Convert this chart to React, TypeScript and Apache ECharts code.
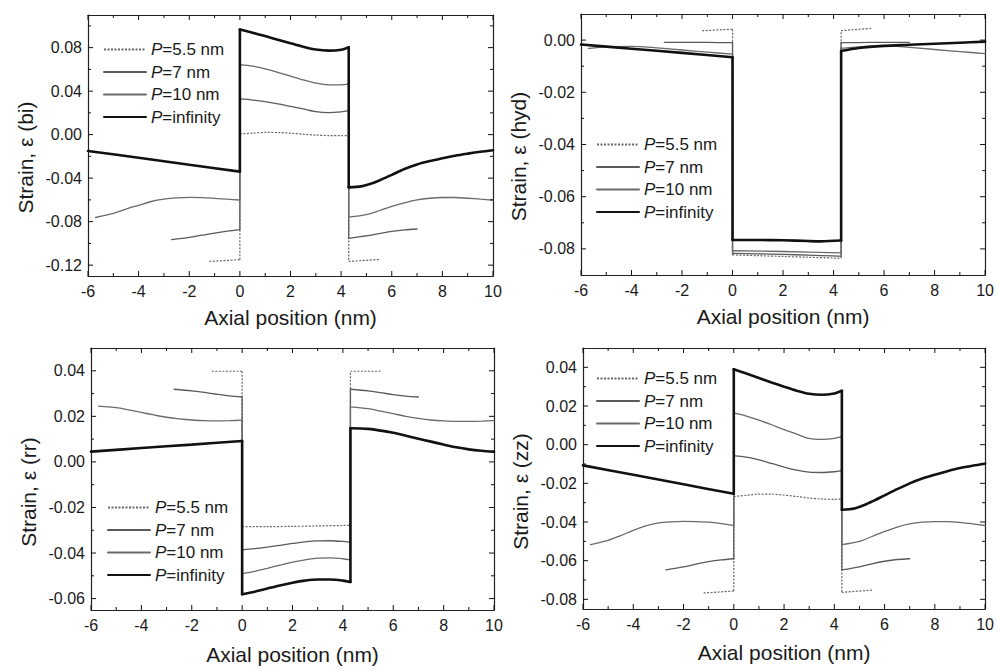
import React, { useEffect, useRef } from "react";
import * as echarts from "echarts";

// ---------- data ----------
const seriesNames = ["P=5.5 nm", "P=7 nm", "P=10 nm", "P=infinity"];
const xTickMin = -6;
const xTickMax = 10;
const xTickStep = 2;
const xMajorTicks = [-6, -4, -2, 0, 2, 4, 6, 8, 10];
const xMinorTicks = [-5, -3, -1, 1, 3, 5, 7, 9];
const yMajorTicks = [
  [-0.12, -0.08, -0.04, 0, 0.04, 0.08],
  [-0.08, -0.06, -0.04, -0.02, 0],
  [-0.06, -0.04, -0.02, 0, 0.02, 0.04],
  [-0.08, -0.06, -0.04, -0.02, 0, 0.02, 0.04],
];
const yMinorTicks = [
  [-0.1, -0.06, -0.02, 0.02, 0.06, 0.1],
  [-0.07, -0.05, -0.03, -0.01],
  [-0.05, -0.03, -0.01, 0.01, 0.03],
  [-0.07, -0.05, -0.03, -0.01, 0.01, 0.03],
];

// Panel (a): Strain, ε (bi)
const bi55 = [[-1.2,-0.1166],[0,-0.1150],[0,0.0006],[0.5,0.0013],[1,0.0020],[1.5,0.0019],[2,0.0013],[2.5,0.0004],[3,-0.0004],[3.5,-0.0009],[4,-0.0010],[4.3,-0.0008],[4.3,-0.1166],[5.5,-0.1148]];
const bi7 = [[-2.7,-0.0966],[-2,-0.0945],[-1.5,-0.0925],[-1,-0.0905],[-0.5,-0.0888],[0,-0.0874],[0,0.0328],[0.5,0.0318],[1,0.0303],[1.5,0.0283],[2,0.0260],[2.5,0.0236],[3,0.0212],[3.5,0.0203],[4,0.0210],[4.3,0.0221],[4.3,-0.0955],[5,-0.0930],[5.5,-0.0910],[6,-0.0890],[6.5,-0.0876],[7,-0.0868]];
const bi10 = [[-5.7,-0.0762],[-5,-0.0725],[-4.5,-0.0685],[-4,-0.0650],[-3.5,-0.0615],[-3,-0.0594],[-2.5,-0.0582],[-2,-0.0577],[-1.5,-0.0579],[-1,-0.0586],[-0.5,-0.0594],[0,-0.0601],[0,0.0644],[0.5,0.0630],[1,0.0605],[1.5,0.0573],[2,0.0538],[2.5,0.0503],[3,0.0474],[3.5,0.0458],[4,0.0458],[4.3,0.0466],[4.3,-0.0758],[5,-0.0735],[5.5,-0.0700],[6,-0.0660],[6.5,-0.0627],[7,-0.0600],[7.5,-0.0585],[8,-0.0578],[8.5,-0.0578],[9,-0.0585],[9.5,-0.0594],[10,-0.0603]];
const biInf = [[-6,-0.0150],[-4,-0.0212],[-2,-0.0277],[0,-0.0340],[0,0.0966],[0.5,0.0937],[1,0.0906],[1.5,0.0873],[2,0.0840],[2.5,0.0808],[3,0.0782],[3.5,0.0772],[4,0.0780],[4.3,0.0803],[4.3,-0.0485],[4.8,-0.0476],[5.2,-0.0450],[5.6,-0.0412],[6,-0.0370],[6.5,-0.0316],[7,-0.0274],[7.5,-0.0243],[8,-0.0218],[8.5,-0.0194],[9,-0.0175],[9.5,-0.0158],[10,-0.0144]];

// Panel (b): Strain, ε (hyd)
const hyd55 = [[-1.2,0.0036],[0,0.0042],[0,-0.0823],[1,-0.0826],[2,-0.0829],[3,-0.0832],[4,-0.0835],[4.3,-0.0836],[4.3,0.0036],[5.5,0.0045]];
const hyd7 = [[-2.7,-0.0009],[-1,-0.0009],[0,-0.0010],[0,-0.0817],[1,-0.0819],[2,-0.0821],[3,-0.0824],[4,-0.0827],[4.3,-0.0828],[4.3,-0.0010],[5.5,-0.0009],[7,-0.0009]];
const hyd10 = [[-5.7,-0.0032],[-5,-0.0026],[-4,-0.0024],[-3,-0.0030],[-2,-0.0038],[-1,-0.0046],[0,-0.0054],[0,-0.0807],[2,-0.0810],[4.3,-0.0815],[4.3,-0.0032],[5,-0.0026],[6,-0.0022],[7,-0.0028],[8,-0.0036],[9,-0.0044],[10,-0.0052]];
const hydInf = [[-6,-0.0017],[-4,-0.0033],[-2,-0.0049],[0,-0.0066],[0,-0.0766],[1,-0.0766],[2,-0.0767],[3,-0.0770],[3.5,-0.0771],[4.3,-0.0768],[4.3,-0.0042],[5,-0.0030],[6,-0.0022],[7,-0.0018],[8,-0.0014],[9,-0.0010],[10,-0.0006]];

// Panel (c): Strain, ε (rr)
const rr55 = [[-1.2,0.0398],[0,0.0398],[0,-0.0284],[1,-0.0284],[2,-0.0283],[3,-0.0281],[4,-0.0279],[4.3,-0.0278],[4.3,0.0398],[5.5,0.0398]];
const rr7 = [[-2.7,0.0319],[-2,0.0312],[-1.5,0.0305],[-1,0.0297],[-0.5,0.0290],[0,0.0286],[0,-0.0386],[0.5,-0.0381],[1,-0.0374],[1.5,-0.0366],[2,-0.0358],[2.5,-0.0351],[3,-0.0347],[3.5,-0.0346],[4,-0.0349],[4.3,-0.0353],[4.3,0.0319],[5,0.0312],[5.5,0.0304],[6,0.0295],[6.5,0.0289],[7,0.0285]];
const rr10 = [[-5.7,0.0245],[-5,0.0238],[-4.5,0.0228],[-4,0.0217],[-3.5,0.0206],[-3,0.0196],[-2.5,0.0189],[-2,0.0184],[-1.5,0.0181],[-1,0.0180],[-0.5,0.0181],[0,0.0183],[0,-0.0490],[0.5,-0.0480],[1,-0.0467],[1.5,-0.0453],[2,-0.0440],[2.5,-0.0430],[3,-0.0422],[3.5,-0.0421],[4,-0.0425],[4.3,-0.0430],[4.3,0.0242],[5,0.0234],[5.5,0.0223],[6,0.0212],[6.5,0.0200],[7,0.0191],[7.5,0.0184],[8,0.0180],[8.5,0.0178],[9,0.0178],[9.5,0.0179],[10,0.0181]];
const rrInf = [[-6,0.0045],[-4,0.0061],[-2,0.0076],[0,0.0092],[0,-0.0581],[0.5,-0.0570],[1,-0.0556],[1.5,-0.0542],[2,-0.0530],[2.5,-0.0521],[3,-0.0516],[3.5,-0.0516],[4,-0.0521],[4.3,-0.0527],[4.3,0.0148],[5,0.0145],[6,0.0128],[6.5,0.0115],[7,0.0102],[7.5,0.0089],[8,0.0076],[8.5,0.0064],[9,0.0055],[9.5,0.0049],[10,0.0045]];

// Panel (d): Strain, ε (zz)
const zz55 = [[-1.2,-0.0767],[0,-0.0757],[0,-0.0268],[0.5,-0.0262],[1,-0.0256],[1.5,-0.0256],[2,-0.0261],[2.5,-0.0268],[3,-0.0276],[3.5,-0.0281],[4,-0.0283],[4.3,-0.0281],[4.3,-0.0764],[5.5,-0.0752]];
const zz7 = [[-2.7,-0.0648],[-2,-0.0632],[-1.5,-0.0618],[-1,-0.0605],[-0.5,-0.0596],[0,-0.0590],[0,-0.0057],[0.5,-0.0065],[1,-0.0079],[1.5,-0.0097],[2,-0.0116],[2.5,-0.0132],[3,-0.0142],[3.5,-0.0144],[4,-0.0140],[4.3,-0.0134],[4.3,-0.0648],[5,-0.0632],[5.5,-0.0616],[6,-0.0603],[6.5,-0.0594],[7,-0.0590]];
const zz10 = [[-5.7,-0.0517],[-5,-0.0495],[-4.5,-0.0470],[-4,-0.0443],[-3.5,-0.0420],[-3,-0.0405],[-2.5,-0.0399],[-2,-0.0397],[-1.5,-0.0398],[-1,-0.0401],[-0.5,-0.0408],[0,-0.0418],[0,0.0164],[0.5,0.0148],[1,0.0127],[1.5,0.0103],[2,0.0078],[2.5,0.0055],[3,0.0032],[3.5,0.0027],[4,0.0033],[4.3,0.0041],[4.3,-0.0517],[5,-0.0500],[5.5,-0.0475],[6,-0.0449],[6.5,-0.0426],[7,-0.0410],[7.5,-0.0401],[8,-0.0398],[8.5,-0.0398],[9,-0.0402],[9.5,-0.0410],[10,-0.0418]];
const zzInf = [[-6,-0.0107],[-4,-0.0156],[-2,-0.0205],[0,-0.0254],[0,0.0390],[0.5,0.0368],[1,0.0345],[1.5,0.0322],[2,0.0300],[2.5,0.0279],[3,0.0263],[3.5,0.0258],[4,0.0265],[4.3,0.0279],[4.3,-0.0337],[4.8,-0.0330],[5.2,-0.0312],[5.6,-0.0288],[6,-0.0262],[6.5,-0.0230],[7,-0.0200],[7.5,-0.0175],[8,-0.0155],[8.5,-0.0137],[9,-0.0121],[9.5,-0.0109],[10,-0.0099]];

const yTitles = ["Strain, ε (bi)", "Strain, ε (hyd)", "Strain, ε (rr)", "Strain, ε (zz)"];
const yMins = [-0.13, -0.09, -0.065, -0.085];
const yMaxs = [0.11, 0.01, 0.05, 0.05];
const ySteps = [0.04, 0.02, 0.02, 0.02];
const xTitle = "Axial position (nm)";

// ---------- layout ----------
const FONT = '"Liberation Sans", Arial, Helvetica, sans-serif';
const TEXT = "#1a1a1a";
const AXIS = "#222";
const panels = [
  { grid: { left: 88, top: 15, width: 405, height: 261 }, legend: { left: 103, top: 41 }, xGap: 31, yShift: 24, data: [bi55, bi7, bi10, biInf] },
  { grid: { left: 581, top: 14, width: 405, height: 261 }, legend: { left: 596, top: 136 }, xGap: 31, yShift: 24, data: [hyd55, hyd7, hyd10, hydInf] },
  { grid: { left: 91, top: 348, width: 403, height: 262 }, legend: { left: 107, top: 499 }, xGap: 34, yShift: 26, data: [rr55, rr7, rr10, rrInf] },
  { grid: { left: 583, top: 348, width: 405, height: 261 }, legend: { left: 596, top: 370 }, xGap: 33, yShift: 26, data: [zz55, zz7, zz10, zzInf] },
];
const lineStyles: any[] = [
  { color: "#666", width: 1.2, type: [2, 1.5], cap: "butt" },
  { color: "#5a5a5a", width: 1.3, type: "solid", cap: "round" },
  { color: "#6a6a6a", width: 1.3, type: "solid", cap: "round" },
  { color: "#111", width: 2.6, type: "solid", cap: "round" },
];
const MAJOR_LEN = 5;
const MINOR_LEN = 3;

const fmtY = (v: number) => (Math.abs(v) < 1e-9 ? 0 : v).toFixed(2);

// split a curve at its vertical jumps so the curved parts can be smoothed
function pieces(d: number[][]) {
  const out: { pts: number[][]; smooth: boolean }[] = [];
  let cur: number[][] = [d[0]];
  for (let i = 1; i < d.length; i++) {
    const prev = d[i - 1];
    if (d[i][0] === prev[0]) {
      out.push({ pts: cur, smooth: true });
      out.push({ pts: [prev, d[i]], smooth: false });
      cur = [d[i]];
    } else cur.push(d[i]);
  }
  out.push({ pts: cur, smooth: true });
  return out.filter((p) => p.pts.length > 1);
}

const mkLine = () => ({ show: true, onZero: false, lineStyle: { color: AXIS, width: 1.2 } });

function buildOption() {
  const grid: any[] = [];
  const xAxis: any[] = [];
  const yAxis: any[] = [];
  const series: any[] = [];
  const legend: any[] = [];
  panels.forEach((p, i) => {
    grid.push({ ...p.grid });
    xAxis.push({
      type: "value", gridIndex: i, position: "bottom", min: xTickMin, max: xTickMax, interval: xTickStep,
      axisLine: mkLine(), axisTick: { show: false }, minorTick: { show: false }, splitLine: { show: false },
      axisLabel: { show: true, margin: 7, fontSize: 16, color: TEXT, fontFamily: FONT },
      name: xTitle, nameLocation: "middle", nameGap: p.xGap,
      nameTextStyle: { fontSize: 21, color: TEXT, fontFamily: FONT },
    });
    xAxis.push({
      type: "value", gridIndex: i, position: "top", min: xTickMin, max: xTickMax, interval: xTickStep,
      axisLine: mkLine(), axisTick: { show: false }, splitLine: { show: false }, axisLabel: { show: false },
    });
    const yCommon = () => ({
      type: "value", gridIndex: i, min: yMins[i], max: yMaxs[i],
      minInterval: ySteps[i], maxInterval: ySteps[i],
      axisLine: mkLine(), axisTick: { show: false }, minorTick: { show: false }, splitLine: { show: false },
    });
    yAxis.push({
      ...yCommon(), position: "left",
      axisLabel: { show: true, margin: 6, fontSize: 16, color: TEXT, fontFamily: FONT, formatter: fmtY, showMinLabel: false, showMaxLabel: false },
      name: yTitles[i], nameLocation: "middle", nameGap: 52, nameRotate: 90,
      nameTextStyle: { fontSize: 21, color: TEXT, fontFamily: FONT, padding: [0, p.yShift, 0, 0] },
    });
    yAxis.push({ ...yCommon(), position: "right", axisLabel: { show: false } });

    // inward tick marks on all four sides, placed through the panel's axes
    const tickData: number[][] = [];
    xMajorTicks.forEach((v) => tickData.push([v, 0, MAJOR_LEN]));
    xMinorTicks.forEach((v) => tickData.push([v, 0, MINOR_LEN]));
    yMajorTicks[i].forEach((v) => tickData.push([v, 1, MAJOR_LEN]));
    yMinorTicks[i].forEach((v) => tickData.push([v, 1, MINOR_LEN]));
    const yLo = yMins[i];
    series.push({
      type: "custom", xAxisIndex: i * 2, yAxisIndex: i * 2, silent: true, z: 5, clip: false,
      data: tickData.map((t) => ({ value: [t[0], t[1], t[2]] })),
      encode: { x: -1, y: -1 },
      renderItem: (params: any, api: any) => {
        const v = api.value(0);
        const isY = api.value(1);
        const len = api.value(2);
        const cs = params.coordSys;
        const st = { stroke: "#111", lineWidth: 1 };
        if (!isY) {
          const px = api.coord([v, yLo])[0];
          return {
            type: "group",
            children: [
              { type: "line", shape: { x1: px, y1: cs.y + cs.height, x2: px, y2: cs.y + cs.height - len }, style: st },
              { type: "line", shape: { x1: px, y1: cs.y, x2: px, y2: cs.y + len }, style: st },
            ],
          };
        }
        const py = api.coord([xTickMin, v])[1];
        return {
          type: "group",
          children: [
            { type: "line", shape: { x1: cs.x, y1: py, x2: cs.x + len, y2: py }, style: st },
            { type: "line", shape: { x1: cs.x + cs.width, y1: py, x2: cs.x + cs.width - len, y2: py }, style: st },
          ],
        };
      },
    });

    p.data.forEach((d, k) => {
      pieces(d).forEach((pc) => {
        series.push({
          type: "line", name: seriesNames[k], xAxisIndex: i * 2, yAxisIndex: i * 2,
          data: pc.pts, showSymbol: false, symbol: "none", smooth: pc.smooth ? 0.3 : false,
          lineStyle: { ...lineStyles[k] }, itemStyle: { color: lineStyles[k].color },
          z: k === 3 ? 4 : 3, silent: true,
        });
      });
    });
    legend.push({
      data: seriesNames, orient: "vertical", left: p.legend.left, top: p.legend.top,
      padding: 0, itemGap: 5.5, itemWidth: 42, itemHeight: 14, selectedMode: false,
      itemStyle: { opacity: 0 },
      textStyle: {
        fontSize: 17, color: TEXT, fontFamily: FONT,
        rich: { i: { fontStyle: "italic", fontSize: 17, color: TEXT, fontFamily: FONT } },
      },
      formatter: (name: string) => "{i|P}" + name.slice(1),
    });
  });
  return {
    animation: false,
    backgroundColor: "#fff",
    grid, xAxis, yAxis, series, legend,
  };
}

export default function App() {
  const ref = useRef<HTMLDivElement>(null);
  useEffect(() => {
    if (!ref.current) return;
    const chart = echarts.init(ref.current, undefined, { renderer: "svg" });
    chart.setOption(buildOption() as any);
    return () => chart.dispose();
  }, []);
  return (
    <div
      ref={ref}
      style={{ position: "fixed", left: 0, top: 0, width: 997, height: 670, background: "#fff" }}
    />
  );
}
